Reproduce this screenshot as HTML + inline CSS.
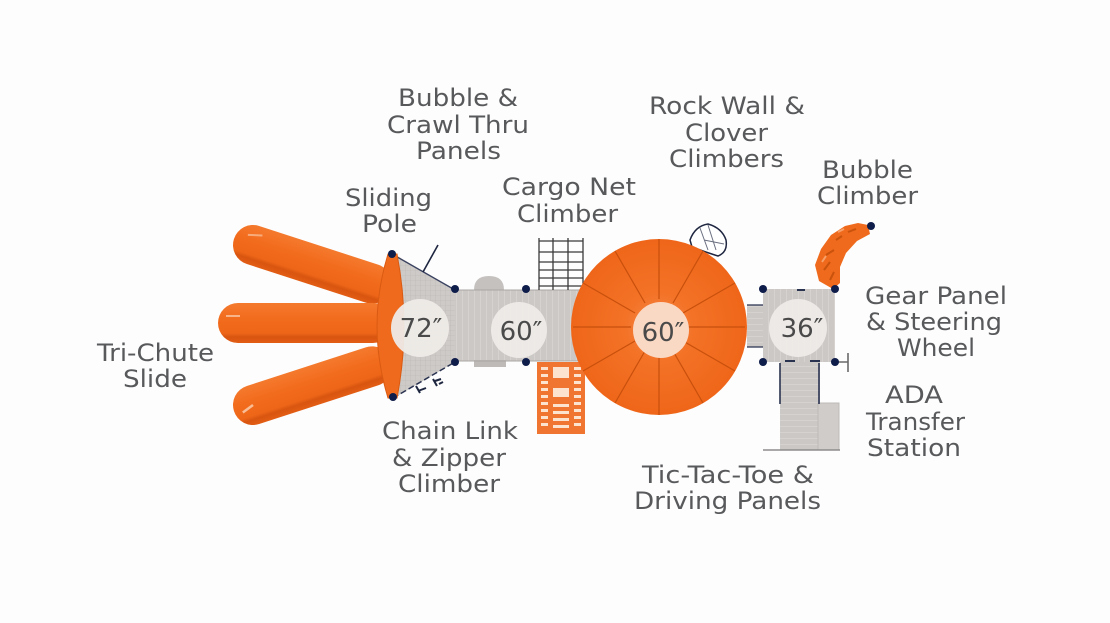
<!DOCTYPE html>
<html><head><meta charset="utf-8"><style>
html,body{margin:0;padding:0;background:#fff;}
svg{display:block;}
.l{font-family:"DejaVu Sans","Liberation Sans",sans-serif;font-size:24px;fill:#58595b;text-anchor:middle;}
.n{font-family:"DejaVu Sans","Liberation Sans",sans-serif;font-size:26px;fill:#4a4a4a;text-anchor:middle;}
</style></head><body>
<svg width="1110" height="623" viewBox="0 0 1110 623" xmlns="http://www.w3.org/2000/svg">
<defs>
<linearGradient id="ch" x1="0" y1="0" x2="0" y2="1">
<stop offset="0" stop-color="#f47a2e"/><stop offset="0.35" stop-color="#f36d1f"/><stop offset="0.75" stop-color="#ee6618"/><stop offset="0.85" stop-color="#d85510"/><stop offset="1" stop-color="#e35d14"/>
</linearGradient>
<radialGradient id="og" cx="0.5" cy="0.5" r="0.5">
<stop offset="0" stop-color="#f6894a"/><stop offset="0.4" stop-color="#f37226"/><stop offset="1" stop-color="#ef6619"/>
</radialGradient>
<pattern id="grid" width="5" height="5" patternUnits="userSpaceOnUse">
<rect width="5" height="5" fill="#cdcac8"/><path d="M0 0H5M0 0V5" stroke="#b9b6b4" stroke-width="0.6"/>
</pattern>
<pattern id="plank" width="10" height="6" patternUnits="userSpaceOnUse">
<rect width="10" height="6" fill="#cbc8c6"/><path d="M0 0H10" stroke="#dcd9d7" stroke-width="1.2"/>
</pattern>
<pattern id="vplank" width="6" height="10" patternUnits="userSpaceOnUse">
<rect width="6" height="10" fill="#cbc8c6"/><path d="M0 0V10" stroke="#dcd9d7" stroke-width="1.2"/>
</pattern>
</defs>
<rect width="1110" height="623" fill="#fdfdfd"/>

<!-- Tri-chute slide -->
<g transform="translate(253,245) rotate(18)"><rect x="-20" y="-20" width="165" height="40" rx="20" fill="url(#ch)"/><path d="M-8 -8 L6 -12" stroke="#fbd3b5" stroke-width="2" opacity="0.6"/></g>
<rect x="218" y="303" width="175" height="40" rx="20" fill="url(#ch)"/>
<path d="M226 316 L240 316" stroke="#fbd3b5" stroke-width="2" opacity="0.7"/>
<g transform="translate(253,405) rotate(-18)"><rect x="-20" y="-20" width="165" height="40" rx="20" fill="url(#ch)"/><path d="M-12 4 L0 0" stroke="#fbd3b5" stroke-width="2.5" opacity="0.8"/></g>

<!-- 72 platform trapezoid -->
<polygon points="394,254 455,290 455,362 394,398" fill="url(#grid)"/>
<line x1="392" y1="254" x2="455" y2="290" stroke="#3a4260" stroke-width="1.3"/>
<line x1="393" y1="398" x2="455" y2="362" stroke="#2a3350" stroke-width="1.5" stroke-dasharray="6 3"/>
<path d="M388,254 Q366,326 388,398 L397,398 Q411,326 397,254 Z" fill="#ef6a1c" stroke="#d95a12" stroke-width="1"/>
<!-- sliding pole -->
<line x1="423" y1="272" x2="438" y2="245" stroke="#1e2640" stroke-width="1.6"/>
<!-- zipper marks -->
<path d="M416 386 L420 393 M418 391 L426 388 M433 379 L437 386 M435 381 L441 379 M439 384 L443 382" stroke="#1e2640" stroke-width="2"/>

<!-- deck 60 -->
<rect x="455" y="290" width="130" height="71" fill="url(#vplank)"/>
<path d="M474 290 Q474 276 489 276 Q504 276 504 290 Z" fill="#c4c1bf"/>
<rect x="474" y="360" width="32" height="7" fill="#bdbab8"/>
<line x1="455" y1="290" x2="585" y2="290" stroke="#a9a6a4" stroke-width="1"/>
<line x1="455" y1="361" x2="585" y2="361" stroke="#a9a6a4" stroke-width="1"/>

<!-- cargo net -->
<g stroke="#3a3a3a" stroke-width="1.3">
<path d="M539 238V290 M553 238V290 M568 238V290 M583 238V290"/>
<path d="M539 241H583 M539 252H583 M539 262H583 M539 270H583 M539 278H583 M539 286H583"/>
</g>

<!-- orange ladder -->
<rect x="537" y="362" width="48" height="72" fill="#ef7530"/>
<g fill="#fbe3d0">
<rect x="541" y="367" width="7" height="3"/><rect x="541" y="374" width="7" height="3"/><rect x="541" y="381" width="7" height="3"/><rect x="541" y="388" width="7" height="3"/><rect x="541" y="395" width="7" height="3"/><rect x="541" y="402" width="7" height="3"/><rect x="541" y="409" width="7" height="3"/><rect x="541" y="416" width="7" height="3"/><rect x="541" y="423" width="7" height="3"/>
<rect x="574" y="367" width="7" height="3"/><rect x="574" y="374" width="7" height="3"/><rect x="574" y="381" width="7" height="3"/><rect x="574" y="388" width="7" height="3"/><rect x="574" y="395" width="7" height="3"/><rect x="574" y="402" width="7" height="3"/><rect x="574" y="409" width="7" height="3"/><rect x="574" y="416" width="7" height="3"/><rect x="574" y="423" width="7" height="3"/>
<rect x="553" y="367" width="16" height="11"/><rect x="553" y="388" width="16" height="9"/>
<rect x="553" y="404" width="16" height="3"/><rect x="553" y="411" width="16" height="3"/><rect x="553" y="418" width="16" height="3"/><rect x="553" y="425" width="16" height="3"/>
</g>

<!-- rock wall clover -->
<path d="M690 240 Q695 226 708 224 Q722 228 726 240 Q728 252 718 256 Q705 252 692 247 Z" fill="#fff" stroke="#1e2640" stroke-width="1.5"/>
<path d="M700 228 L708 250 M708 225 L716 250 M704 240 L724 244" stroke="#6a6f80" stroke-width="1"/>

<!-- big orange circle -->
<circle cx="659" cy="327" r="88" fill="url(#og)"/>
<g stroke="#c8500c" stroke-width="1.2">
<line x1="659" y1="299" x2="659" y2="239"/>
<line x1="659" y1="355" x2="659" y2="415"/>
<line x1="683" y1="313" x2="735" y2="283"/>
<line x1="635" y1="341" x2="583" y2="371"/>
<line x1="635" y1="313" x2="583" y2="283"/>
<line x1="683" y1="341" x2="735" y2="371"/>
<line x1="673" y1="303" x2="703" y2="251"/>
<line x1="645" y1="351" x2="615" y2="403"/>
<line x1="645" y1="303" x2="615" y2="251"/>
<line x1="673" y1="351" x2="703" y2="403"/>
<line x1="687" y1="327" x2="745" y2="327"/>
<line x1="631" y1="327" x2="573" y2="327"/>
</g>
<circle cx="661" cy="330" r="28" fill="#fad9c4"/>

<!-- walkway to 36 -->
<rect x="747" y="305" width="17" height="42" fill="url(#plank)"/>
<line x1="747" y1="305" x2="764" y2="305" stroke="#2a3350" stroke-width="1.2"/>
<line x1="747" y1="347" x2="764" y2="347" stroke="#2a3350" stroke-width="1.2"/>

<!-- ADA ramp -->
<rect x="780" y="362" width="40" height="88" fill="url(#plank)"/>
<rect x="818" y="403" width="21" height="47" fill="#cfccca" stroke="#bdbab8" stroke-width="1"/>
<line x1="780" y1="363" x2="780" y2="404" stroke="#2a3350" stroke-width="1.6"/>
<line x1="819" y1="363" x2="819" y2="404" stroke="#2a3350" stroke-width="1.6"/>
<line x1="763" y1="450" x2="840" y2="450" stroke="#8e8c8b" stroke-width="1.5"/>

<!-- deck 36 -->
<rect x="763" y="289" width="72" height="73" fill="url(#vplank)"/>
<line x1="797" y1="290" x2="805" y2="290" stroke="#2a3350" stroke-width="2"/>
<line x1="785" y1="361" x2="795" y2="361" stroke="#2a3350" stroke-width="2"/>
<line x1="810" y1="361" x2="820" y2="361" stroke="#2a3350" stroke-width="2"/>
<!-- steering wheel -->
<path d="M835 362H848 M848 353V372" stroke="#6a6a6a" stroke-width="1.6"/>

<!-- bubble climber -->
<path d="M833,289 L819,281 L815,265 L821,249 L831,235 L845,226 L858,223 L868,225 L870,234 L857,241 L846,253 L840,267 L840,283 Z" fill="#ef6a1c"/>
<path d="M824 270 L830 262 M826 255 L834 250 M836 240 L842 236 M848 232 L856 229 M830 280 L834 272" stroke="#c9520c" stroke-width="2" fill="none"/>
<path d="M822 262 L826 256 M838 232 L844 229" stroke="#f7a06a" stroke-width="2" fill="none"/>

<!-- dimension circles -->
<circle cx="420" cy="328" r="29" fill="#eeebe8" opacity="0.95"/>
<circle cx="519" cy="330" r="28" fill="#eeebe8" opacity="0.95"/>
<circle cx="798" cy="328" r="29" fill="#eeebe8" opacity="0.95"/>
<text class="n" x="421" y="337">72″</text>
<text class="n" x="521" y="340">60″</text>
<text class="n" x="663" y="341">60″</text>
<text class="n" x="802" y="337">36″</text>

<!-- dots -->
<g fill="#0f1d4a">
<circle cx="392" cy="254" r="4"/><circle cx="455" cy="289" r="4"/><circle cx="455" cy="362" r="4"/><circle cx="393" cy="397" r="4"/>
<circle cx="526" cy="289" r="4"/><circle cx="526" cy="362" r="4"/>
<circle cx="763" cy="289" r="4"/><circle cx="835" cy="289" r="4"/><circle cx="763" cy="362" r="4"/><circle cx="835" cy="362" r="4"/>
<circle cx="871" cy="226" r="4"/>
</g>

<!-- labels -->
<text class="l" x="458" y="106" textLength="120" lengthAdjust="spacingAndGlyphs">Bubble &amp;</text>
<text class="l" x="458" y="133" textLength="142" lengthAdjust="spacingAndGlyphs">Crawl Thru</text>
<text class="l" x="458.5" y="159" textLength="85" lengthAdjust="spacingAndGlyphs">Panels</text>

<text class="l" x="388.5" y="206" textLength="87" lengthAdjust="spacingAndGlyphs">Sliding</text>
<text class="l" x="389.5" y="232" textLength="55" lengthAdjust="spacingAndGlyphs">Pole</text>

<text class="l" x="569" y="195" textLength="134" lengthAdjust="spacingAndGlyphs">Cargo Net</text>
<text class="l" x="567.5" y="222" textLength="101" lengthAdjust="spacingAndGlyphs">Climber</text>

<text class="l" x="727" y="114" textLength="156" lengthAdjust="spacingAndGlyphs">Rock Wall &amp;</text>
<text class="l" x="726.5" y="141" textLength="83" lengthAdjust="spacingAndGlyphs">Clover</text>
<text class="l" x="726.5" y="167" textLength="115" lengthAdjust="spacingAndGlyphs">Climbers</text>

<text class="l" x="867.5" y="178" textLength="91" lengthAdjust="spacingAndGlyphs">Bubble</text>
<text class="l" x="867.5" y="204" textLength="101" lengthAdjust="spacingAndGlyphs">Climber</text>

<text class="l" x="155.5" y="361" textLength="117" lengthAdjust="spacingAndGlyphs">Tri-Chute</text>
<text class="l" x="155" y="387" textLength="64" lengthAdjust="spacingAndGlyphs">Slide</text>

<text class="l" x="450" y="439" textLength="136" lengthAdjust="spacingAndGlyphs">Chain Link</text>
<text class="l" x="449" y="466" textLength="114" lengthAdjust="spacingAndGlyphs">&amp; Zipper</text>
<text class="l" x="449" y="492" textLength="102" lengthAdjust="spacingAndGlyphs">Climber</text>

<text class="l" x="936" y="304" textLength="142" lengthAdjust="spacingAndGlyphs">Gear Panel</text>
<text class="l" x="934" y="330" textLength="136" lengthAdjust="spacingAndGlyphs">&amp; Steering</text>
<text class="l" x="936" y="356" textLength="78" lengthAdjust="spacingAndGlyphs">Wheel</text>

<text class="l" x="914" y="403" textLength="58" lengthAdjust="spacingAndGlyphs">ADA</text>
<text class="l" x="915.5" y="430" textLength="99" lengthAdjust="spacingAndGlyphs">Transfer</text>
<text class="l" x="914" y="456" textLength="94" lengthAdjust="spacingAndGlyphs">Station</text>

<text class="l" x="728" y="483" textLength="172" lengthAdjust="spacingAndGlyphs">Tic-Tac-Toe &amp;</text>
<text class="l" x="727.5" y="509" textLength="187" lengthAdjust="spacingAndGlyphs">Driving Panels</text>
</svg>
</body></html>
